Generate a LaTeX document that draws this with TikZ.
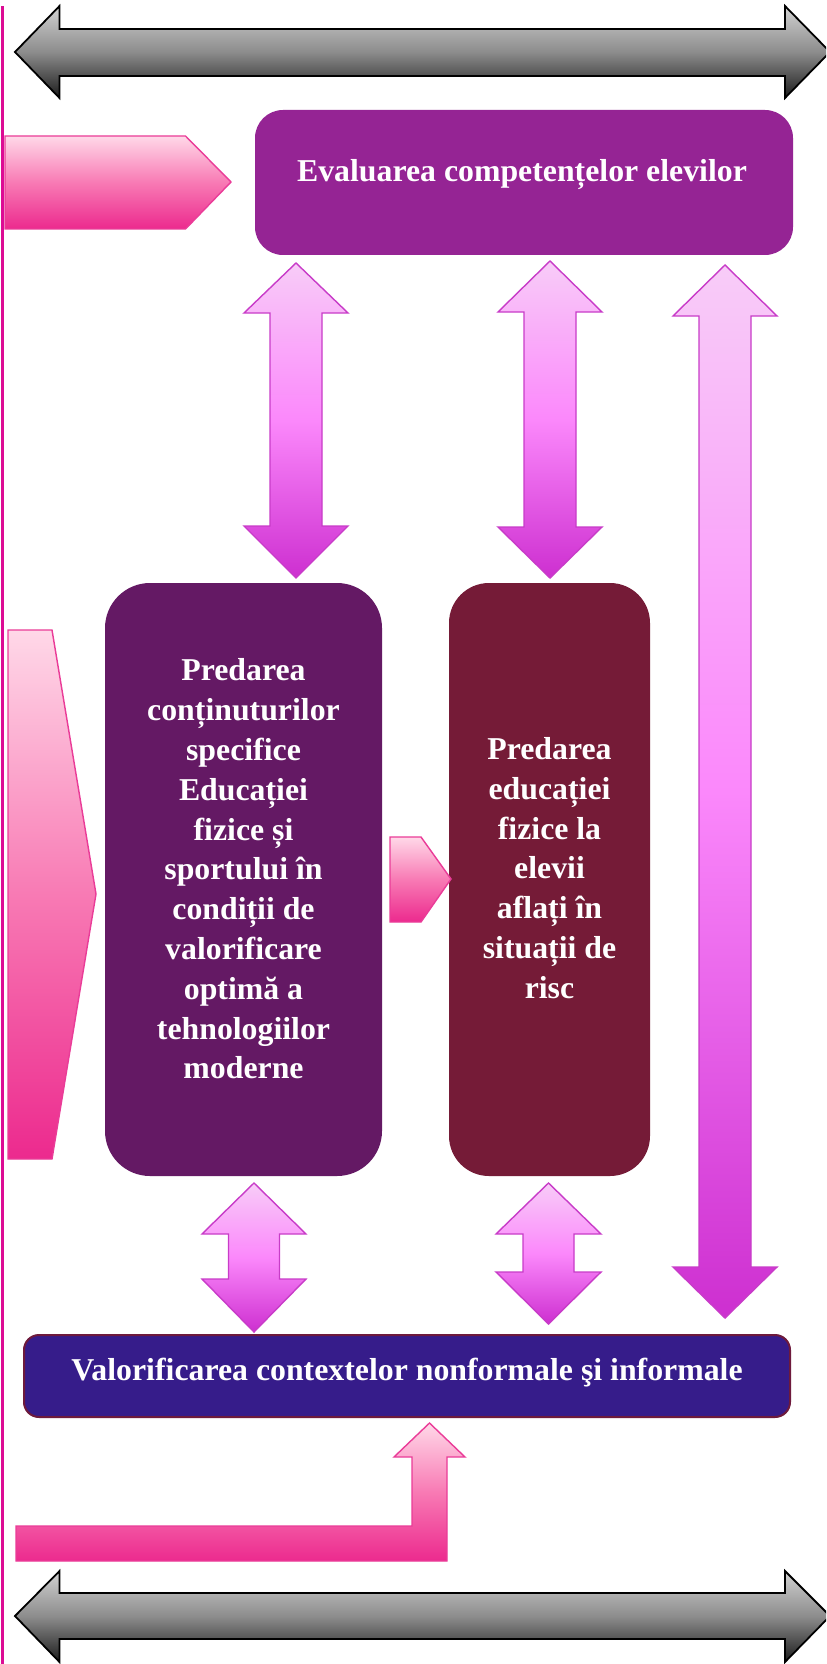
\documentclass[tikz,border=0pt]{standalone}
\usepackage{fontspec}
\setmainfont{Liberation Serif}
\definecolor{evalc}{HTML}{952494}
\definecolor{predAc}{HTML}{641964}
\definecolor{predBc}{HTML}{751B37}
\definecolor{valorc}{HTML}{361C8A}
\definecolor{valoredge}{HTML}{6E1A3C}
\definecolor{pinktop}{HTML}{FFD8E8}
\definecolor{pinkmid}{HTML}{F87AB4}
\definecolor{pinkbot}{HTML}{EC2A8E}
\definecolor{pinkedge}{HTML}{EA3C98}
\definecolor{mgtop}{HTML}{F8CCF8}
\definecolor{mgmid}{HTML}{FB88FB}
\definecolor{mgbot}{HTML}{CD2FD0}
\definecolor{mgedge}{HTML}{C83CC8}
\definecolor{greytop}{HTML}{D2D2D2}
\definecolor{greymid}{HTML}{8C8C8C}
\definecolor{greybot}{HTML}{1C1C1C}
\definecolor{sideline}{HTML}{DC0C94}
\begin{document}
\begin{tikzpicture}[x=0.5pt,y=-0.5pt,
  boxtxt/.style={text=white,font=\bfseries\fontsize{15.9}{19.9}\selectfont,align=center,inner sep=0pt},
  roundbox/.style={rectangle,inner sep=0pt,draw=none},
  pinkblock/.style={draw=pinkedge,line width=0.7pt,line join=miter,top color=pinktop,bottom color=pinkbot,middle color=pinkmid},
  mgblock/.style={draw=mgedge,line width=0.7pt,top color=mgtop,bottom color=mgbot,middle color=mgmid},
  greyblock/.style={draw=black,line width=0.9pt,top color=greytop,bottom color=greybot,middle color=greymid}]
\useasboundingbox (0,0) rectangle (826,1664);
\clip (0,0) rectangle (826,1664);
\fill[white] (0,0) rectangle (826,1664);

% left side line
\fill[sideline] (0.5,6) rectangle (3.5,1664);

% grey double arrows
\draw[greyblock] (15,52) -- (59.5,6) -- (59.5,29) -- (785,29) -- (785,6) -- (830,52)
  -- (785,98) -- (785,76) -- (59.5,76) -- (59.5,98) -- cycle;
\draw[greyblock] (15,1616) -- (59.5,1571) -- (59.5,1593) -- (785,1593) -- (785,1571) -- (830,1616)
  -- (785,1662) -- (785,1639) -- (59.5,1639) -- (59.5,1662) -- cycle;

% boxes
\node[roundbox,fill=evalc,rounded corners=14pt,minimum width=269pt,minimum height=72.5pt] (eval) at (524,182.5) {};
\node[roundbox,fill=predAc,rounded corners=22.5pt,minimum width=138.5pt,minimum height=296.5pt] (predA) at (243.5,879.5) {};
\node[roundbox,fill=predBc,rounded corners=20pt,minimum width=100.5pt,minimum height=296.5pt] (predB) at (549.5,879.5) {};
\node[roundbox,fill=valorc,draw=valoredge,line width=1pt,rounded corners=7.5pt,minimum width=383pt,minimum height=41pt] (valor) at (407,1376) {};

% texts
\node[boxtxt,anchor=base] (evaltxt) at (522,181.7) {Evaluarea competențelor elevilor};
\node[boxtxt,anchor=center] (predAtxt) at (243.5,869) {Predarea\\conținuturilor\\specifice\\Educației\\fizice și\\sportului în\\condiții de\\valorificare\\optimă a\\tehnologiilor\\moderne};
\node[boxtxt,anchor=center] (predBtxt) at (549.5,868) {Predarea\\educației\\fizice la\\elevii\\aflați în\\situații de\\risc};
\node[boxtxt,anchor=base] (valortxt) at (407,1380.7) {Valorificarea contextelor nonformale şi informale};

% pink pentagons
\draw[pinkblock] (5,136) -- (185.5,136) -- (231,182) -- (185.5,229) -- (5,229) -- cycle;
\draw[pinkblock] (8,630) -- (52,630) -- (96,894) -- (52,1159) -- (8,1159) -- cycle;
\draw[pinkblock] (390,837) -- (421,837) -- (451,879) -- (421,922) -- (390,922) -- cycle;

% bent arrow
\draw[pinkblock] (16,1526) -- (412,1526) -- (412,1457) -- (394,1457) -- (429.5,1423) -- (465,1457)
  -- (447,1457) -- (447,1561) -- (16,1561) -- cycle;

% magenta vertical double arrows
\draw[mgblock] (296,263) -- (348,313) -- (322,313) -- (322,526) -- (348,526) -- (296,578)
  -- (244,526) -- (270,526) -- (270,313) -- (244,313) -- cycle;
\draw[mgblock] (550,261) -- (602,312) -- (576,312) -- (576,527) -- (602,527) -- (550,578)
  -- (498,527) -- (524,527) -- (524,312) -- (498,312) -- cycle;
\draw[mgblock] (725,265) -- (777,316) -- (751,316) -- (751,1267) -- (777,1267) -- (725,1318)
  -- (673,1267) -- (699,1267) -- (699,316) -- (673,316) -- cycle;
\draw[mgblock] (254,1183) -- (306,1234) -- (279.5,1234) -- (279.5,1279) -- (306,1279) -- (254,1332)
  -- (202,1279) -- (228.5,1279) -- (228.5,1234) -- (202,1234) -- cycle;
\draw[mgblock] (548.5,1183) -- (601,1234) -- (574,1234) -- (574,1272) -- (601,1272) -- (548.5,1324)
  -- (496,1272) -- (523,1272) -- (523,1234) -- (496,1234) -- cycle;
\end{tikzpicture}
\end{document}
